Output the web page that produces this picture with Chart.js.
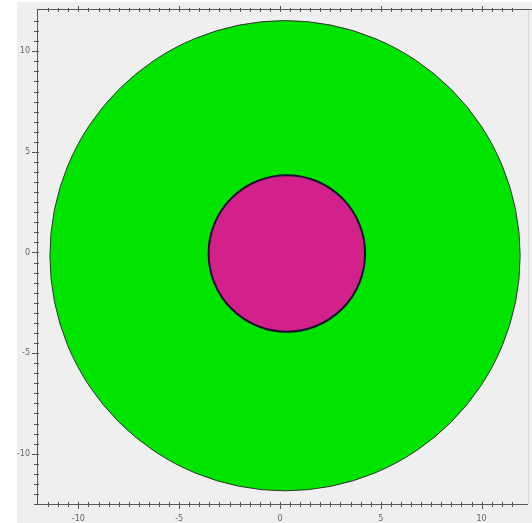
<!DOCTYPE html>
<html>
<head>
  <meta charset="UTF-8">
  <title>Circles</title>
  <script src="https://cdn.jsdelivr.net/npm/chart.js"></script>
  <style>
    body { margin: 0; background: #fff; }
    .wrap { position: absolute; left: 17px; top: 2px; width: 515px; height: 521px; background: #efefef; }
  </style>
</head>
<body>
  <div class="wrap"><canvas id="chart"></canvas></div>

  <script>
    // two discs: centre and radius in axis units
    const circleNames = ['inner', 'outer'];
    const centerX = [0.34, 0.25];
    const centerY = [-0.05, -0.16];
    const radii = [3.88, 11.66];
    const fills = ['#d2218a', '#00e400'];
    const edges = ['#1a1030', '#333333'];
    const edgeWidths = [2, 1];

    const xRange = [-12.05, 12.3];
    const yRange = [-12.5, 12.1];
    const tickStep = 0.5;
    const labelStep = 5;

    // radius in pixels taken from the x scale
    function pixelRadius(ctx) {
      const x = ctx.chart.scales.x;
      const i = ctx.datasetIndex;
      const r = Math.abs(x.getPixelForValue(centerX[i] + radii[i]) - x.getPixelForValue(centerX[i]));
      return isFinite(r) ? r : 0;
    }

    const isStep = (v, s) => Math.abs(v / s - Math.round(v / s)) < 1e-6;

    // frame lines with minor/major ticks crossing them
    const framePlugin = {
      id: 'frame',
      afterDraw(chart) {
        const { ctx, chartArea: a, scales } = chart;
        ctx.save();
        ctx.strokeStyle = '#d8d8d8';
        ctx.lineWidth = 1;
        ctx.beginPath();
        ctx.moveTo(a.right + 0.5, a.top);
        ctx.lineTo(a.right + 0.5, a.bottom);
        ctx.stroke();

        ctx.strokeStyle = '#555';
        ctx.beginPath();
        ctx.moveTo(a.left + 0.5, a.top);
        ctx.lineTo(a.left + 0.5, a.bottom + 0.5);
        ctx.lineTo(a.right, a.bottom + 0.5);
        ctx.moveTo(a.left, a.top + 0.5);
        ctx.lineTo(chart.width, a.top + 0.5);
        ctx.stroke();

        ctx.beginPath();
        scales.x.ticks.forEach(t => {
          if (!isStep(t.value, tickStep)) return;
          const px = Math.round(scales.x.getPixelForValue(t.value)) + 0.5;
          const major = isStep(t.value, labelStep);
          ctx.moveTo(px, a.bottom - 2);
          ctx.lineTo(px, a.bottom + (major ? 5 : 3));
          ctx.moveTo(px, a.top - (major ? 3 : 1));
          ctx.lineTo(px, a.top + 3);
        });
        scales.y.ticks.forEach(t => {
          if (!isStep(t.value, tickStep)) return;
          const py = Math.round(scales.y.getPixelForValue(t.value)) + 0.5;
          const major = isStep(t.value, labelStep);
          ctx.moveTo(a.left - (major ? 5 : 3), py);
          ctx.lineTo(a.left + 2, py);
        });
        ctx.stroke();
        ctx.restore();
      }
    };

    const labelFont = { family: 'DejaVu Sans', size: 8 };
    const tickLabel = v => isStep(v, labelStep) ? String(Math.round(v)) : '';
    const noGrid = { display: false, drawTicks: false, tickLength: 0 };

    new Chart(document.getElementById('chart'), {
      type: 'scatter',
      data: {
        datasets: circleNames.map((name, i) => ({
          label: name,
          data: [{ x: centerX[i], y: centerY[i] }],
          pointBackgroundColor: fills[i],
          pointBorderColor: edges[i],
          pointBorderWidth: edgeWidths[i],
          pointRadius: pixelRadius,
          pointHoverRadius: pixelRadius,
          clip: false,
          order: i
        }))
      },
      options: {
        responsive: true,
        maintainAspectRatio: false,
        animation: false,
        events: [],
        layout: { autoPadding: false, padding: { top: 7, right: 4, left: 0, bottom: 0 } },
        plugins: { legend: { display: false }, tooltip: { enabled: false } },
        scales: {
          x: {
            type: 'linear',
            min: xRange[0],
            max: xRange[1],
            grid: noGrid,
            border: { display: false },
            afterFit: s => { s.height = 19; s.paddingLeft = 0; s.paddingRight = 0; },
            ticks: {
              stepSize: tickStep,
              autoSkip: false,
              maxRotation: 0,
              padding: 10,
              color: '#666',
              font: labelFont,
              callback: tickLabel
            }
          },
          y: {
            type: 'linear',
            min: yRange[0],
            max: yRange[1],
            grid: noGrid,
            border: { display: false },
            afterFit: s => { s.width = 20; s.paddingTop = 0; s.paddingBottom = 0; },
            ticks: {
              stepSize: tickStep,
              autoSkip: false,
              padding: 7,
              color: '#666',
              font: labelFont,
              callback: tickLabel
            }
          }
        }
      },
      plugins: [framePlugin]
    });
  </script>
</body>
</html>
